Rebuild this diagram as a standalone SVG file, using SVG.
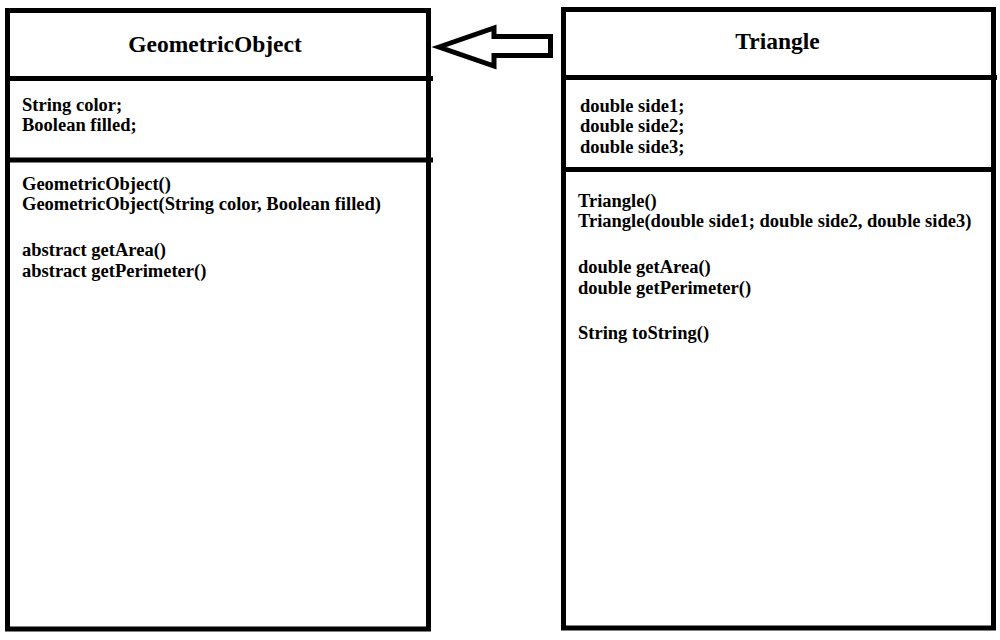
<svg xmlns="http://www.w3.org/2000/svg" width="1000" height="640" viewBox="0 0 1000 640">
<style>
.box{fill:#fff;stroke:#000;stroke-width:5}
.div{stroke:#000;stroke-width:5}
.t{font-family:"Liberation Serif","Times New Roman",serif;font-weight:bold;fill:#000}
.title{font-size:23.5px;text-anchor:middle}
.body{font-size:18.5px}
</style>
<rect width="1000" height="640" fill="#fff"/>
<g id="GeometricObject">
<rect class="box" x="7.5" y="10.5" width="421" height="618.5"/>
<line class="div" x1="7.5" y1="78.5" x2="433" y2="78.5"/>
<line class="div" x1="7.5" y1="160" x2="433" y2="160"/>
<text class="t title" x="215" y="52">GeometricObject</text>
<text class="t body" x="22" y="111">String color;</text>
<text class="t body" x="22" y="131">Boolean filled;</text>
<text class="t body" x="22" y="190">GeometricObject()</text>
<text class="t body" x="22" y="210">GeometricObject(String color, Boolean filled)</text>
<text class="t body" x="22" y="256">abstract getArea()</text>
<text class="t body" x="22" y="277">abstract getPerimeter()</text>
</g>
<g id="Triangle">
<rect class="box" x="563.5" y="9.5" width="430" height="618.5"/>
<line class="div" x1="563.5" y1="77.5" x2="997" y2="77.5"/>
<line class="div" x1="563.5" y1="169.5" x2="993.5" y2="169.5"/>
<text class="t title" x="777.5" y="49">Triangle</text>
<text class="t body" x="580" y="112">double side1;</text>
<text class="t body" x="580" y="132">double side2;</text>
<text class="t body" x="580" y="153">double side3;</text>
<text class="t body" x="578" y="207">Triangle()</text>
<text class="t body" x="578" y="227">Triangle(double side1; double side2, double side3)</text>
<text class="t body" x="578" y="273">double getArea()</text>
<text class="t body" x="578" y="294">double getPerimeter()</text>
<text class="t body" x="578" y="339">String toString()</text>
</g>
<g id="connectors">
<polygon points="439,47 494,28 494,36.5 550.5,36.5 550.5,55.5 494,55.5 494,66" fill="#fff" stroke="#000" stroke-width="5" stroke-linejoin="miter"/>
</g>
</svg>
